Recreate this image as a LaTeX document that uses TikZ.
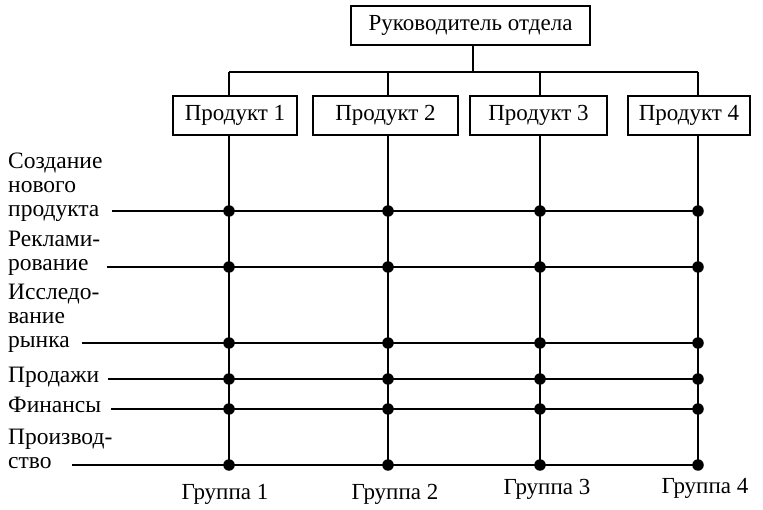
\documentclass[tikz,border=0pt]{standalone}
\usepackage{fontspec}
\setmainfont{Liberation Serif}
\begin{document}
\begin{tikzpicture}[x=1pt,y=-1pt,
  box/.style={draw,line width=2pt,minimum height=39pt,inner sep=0pt,font=\fontsize{23}{26}\selectfont},
  link/.style={line width=2.6pt},
  rowlabel/.style={anchor=base west,align=left,inner sep=0pt,font=\fontsize{23.5}{24}\selectfont},
  grouplabel/.style={anchor=base,inner sep=0pt,font=\fontsize{23}{26}\selectfont},
  dot/.style={circle,fill=black,inner sep=0pt,minimum size=11.5pt}]
\useasboundingbox (0,0) rectangle (763,510);

% department head and product boxes
\node[box,minimum width=239pt] (head) at (470.5,25.5) {Руководитель отдела};
\node[box,minimum width=124pt] (p1) at (235,115.5) {Продукт 1};
\node[box,minimum width=145pt] (p2) at (385.5,115.5) {Продукт 2};
\node[box,minimum width=137pt] (p3) at (538.5,115.5) {Продукт 3};
\node[box,minimum width=122pt] (p4) at (689,115.5) {Продукт 4};

% tree connectors from the head to the products
\coordinate (bus) at (473,72);
\coordinate (b1) at (229,72);
\coordinate (b2) at (388,72);
\coordinate (b3) at (540,72);
\coordinate (b4) at (698,72);
\draw[link] (head.south -| bus) -- (bus);
\draw[link] (b1) -- (b4);
\draw[link] (b1) -- (b1 |- p1.north);
\draw[link] (b2) -- (b2 |- p2.north);
\draw[link] (b3) -- (b3 |- p3.north);
\draw[link] (b4) -- (b4 |- p4.north);

% function rows: start points of the lines
\coordinate (r1) at (112,211);
\coordinate (r2) at (107,267);
\coordinate (r3) at (82,343);
\coordinate (r4) at (108,379);
\coordinate (r5) at (111,409);
\coordinate (r6) at (72,465);

\node[rowlabel] (l1) at (8,217) {Создание\\нового\\продукта};
\node[rowlabel] (l2) at (8,271) {Реклами-\\рование};
\node[rowlabel] (l3) at (8,348) {Исследо-\\вание\\рынка};
\node[rowlabel] (l4) at (8,383) {Продажи};
\node[rowlabel] (l5) at (8,413) {Финансы};
\node[rowlabel] (l6) at (8,468) {Производ-\\ство};

\foreach \r in {1,...,6}{
  \draw[link] (r\r) -- (r\r -| b4);
}

% product columns down to the last row
\draw[link] (b1 |- p1.south) -- (b1 |- r6);
\draw[link] (b2 |- p2.south) -- (b2 |- r6);
\draw[link] (b3 |- p3.south) -- (b3 |- r6);
\draw[link] (b4 |- p4.south) -- (b4 |- r6);

% intersections
\foreach \r in {1,...,6}{
  \foreach \c in {1,...,4}{
    \node[dot] (d\r\c) at (b\c |- r\r) {};
  }
}

% group captions
\node[grouplabel] (g1) at (225,499) {Группа 1};
\node[grouplabel] (g2) at (395,499) {Группа 2};
\node[grouplabel] (g3) at (547,494) {Группа 3};
\node[grouplabel] (g4) at (705,493) {Группа 4};
\end{tikzpicture}
\end{document}
